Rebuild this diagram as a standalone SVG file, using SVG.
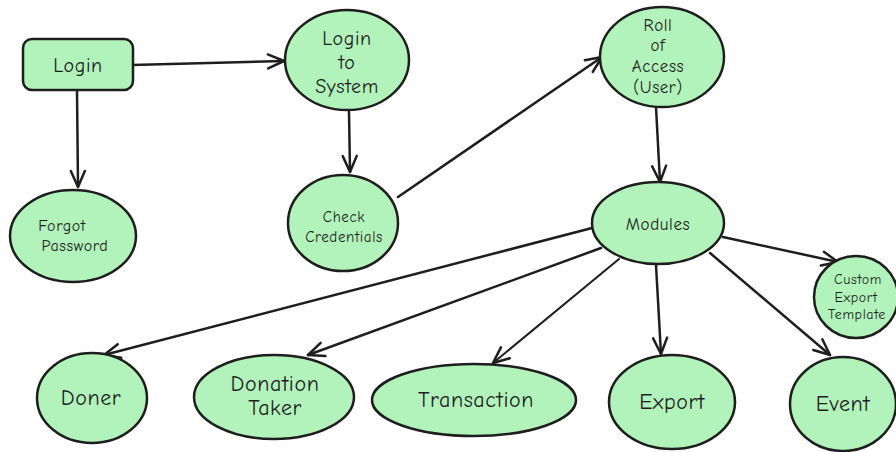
<svg xmlns="http://www.w3.org/2000/svg" width="896" height="452" viewBox="0 0 896 452">
<style>
.n{fill:#b2f2bb;stroke:#1e1e1e;stroke-width:2.5}
.t{font-family:"Comic Neue","Liberation Sans",sans-serif;fill:#1e1e1e;text-anchor:middle;dominant-baseline:central;letter-spacing:0.6px}
.c{stroke:#1e1e1e;stroke-width:2.5;fill:none;stroke-linecap:round}
</style>
<defs>
<marker id="a" markerUnits="userSpaceOnUse" markerWidth="30" markerHeight="30" refX="0" refY="0" viewBox="-20 -15 30 30" orient="auto" overflow="visible">
<path d="M-16 -7 L0 0 L-16 7" fill="none" stroke="#1e1e1e" stroke-width="2.5" stroke-linecap="round" stroke-linejoin="round"/>
</marker>
</defs>
<rect width="896" height="452" fill="#ffffff"/>
<g id="connectors">
<path class="c" d="M132 65 L284 61" marker-end="url(#a)"/>
<path class="c" d="M77 91 L78 187" marker-end="url(#a)"/>
<path class="c" d="M349 112 L350 172" marker-end="url(#a)"/>
<path class="c" d="M398 197 L602 57" marker-end="url(#a)"/>
<path class="c" d="M656 107 L660 182" marker-end="url(#a)"/>
<path class="c" d="M723 237 L838 262" marker-end="url(#a)"/>
<path class="c" d="M592 228 L104 355" marker-end="url(#a)"/>
<path class="c" d="M601 248 L308 355" marker-end="url(#a)"/>
<path class="c" d="M619 259 L493 363" marker-end="url(#a)" style="stroke-width:2"/>
<path class="c" d="M656 265 L661 354" marker-end="url(#a)"/>
<path class="c" d="M710 253 L830 355" marker-end="url(#a)"/>
</g>
<g id="login">
<rect class="n" x="23" y="39" width="110" height="51" rx="9"/>
<text class="t" x="78" y="65" font-size="20">Login</text>
</g>
<g id="login-to-system">
<ellipse class="n" cx="347" cy="60" rx="62" ry="50"/>
<text class="t" x="347" y="38" font-size="20">Login</text>
<text class="t" x="347" y="62" font-size="20">to</text>
<text class="t" x="347" y="86" font-size="20">System</text>
</g>
<g id="forgot-password">
<ellipse class="n" cx="73" cy="236" rx="63" ry="46"/>
<text class="t" x="62" y="226" font-size="16">Forgot</text>
<text class="t" x="75" y="246" font-size="16">Password</text>
</g>
<g id="check-credentials">
<ellipse class="n" cx="343" cy="223" rx="55" ry="48"/>
<text class="t" x="344" y="217" font-size="15">Check</text>
<text class="t" x="344" y="237" font-size="15">Credentials</text>
</g>
<g id="roll-of-access">
<ellipse class="n" cx="662" cy="57" rx="62" ry="50"/>
<text class="t" x="658" y="25" font-size="17">Roll</text>
<text class="t" x="658" y="45" font-size="17">of</text>
<text class="t" x="658" y="66" font-size="17">Access</text>
<text class="t" x="658" y="87" font-size="17">(User)</text>
</g>
<g id="modules">
<ellipse class="n" cx="658" cy="223" rx="66" ry="41"/>
<text class="t" x="658" y="224" font-size="17">Modules</text>
</g>
<g id="custom-export-template">
<ellipse class="n" cx="856" cy="297" rx="42" ry="41"/>
<text class="t" x="858" y="279" font-size="14">Custom</text>
<text class="t" x="856" y="297" font-size="14">Export</text>
<text class="t" x="857" y="314" font-size="14">Template</text>
</g>
<g id="doner">
<ellipse class="n" cx="92" cy="398" rx="55" ry="45"/>
<text class="t" x="91" y="398" font-size="22">Doner</text>
</g>
<g id="donation-taker">
<ellipse class="n" cx="274" cy="397" rx="80" ry="42"/>
<text class="t" x="275" y="384" font-size="22">Donation</text>
<text class="t" x="275" y="408" font-size="22">Taker</text>
</g>
<g id="transaction">
<ellipse class="n" cx="474" cy="400" rx="102" ry="36"/>
<text class="t" x="476" y="400" font-size="22">Transaction</text>
</g>
<g id="export">
<ellipse class="n" cx="672" cy="402" rx="63" ry="47"/>
<text class="t" x="672" y="402" font-size="22">Export</text>
</g>
<g id="event">
<ellipse class="n" cx="843" cy="404" rx="53" ry="47"/>
<text class="t" x="843" y="404" font-size="22">Event</text>
</g>
</svg>
